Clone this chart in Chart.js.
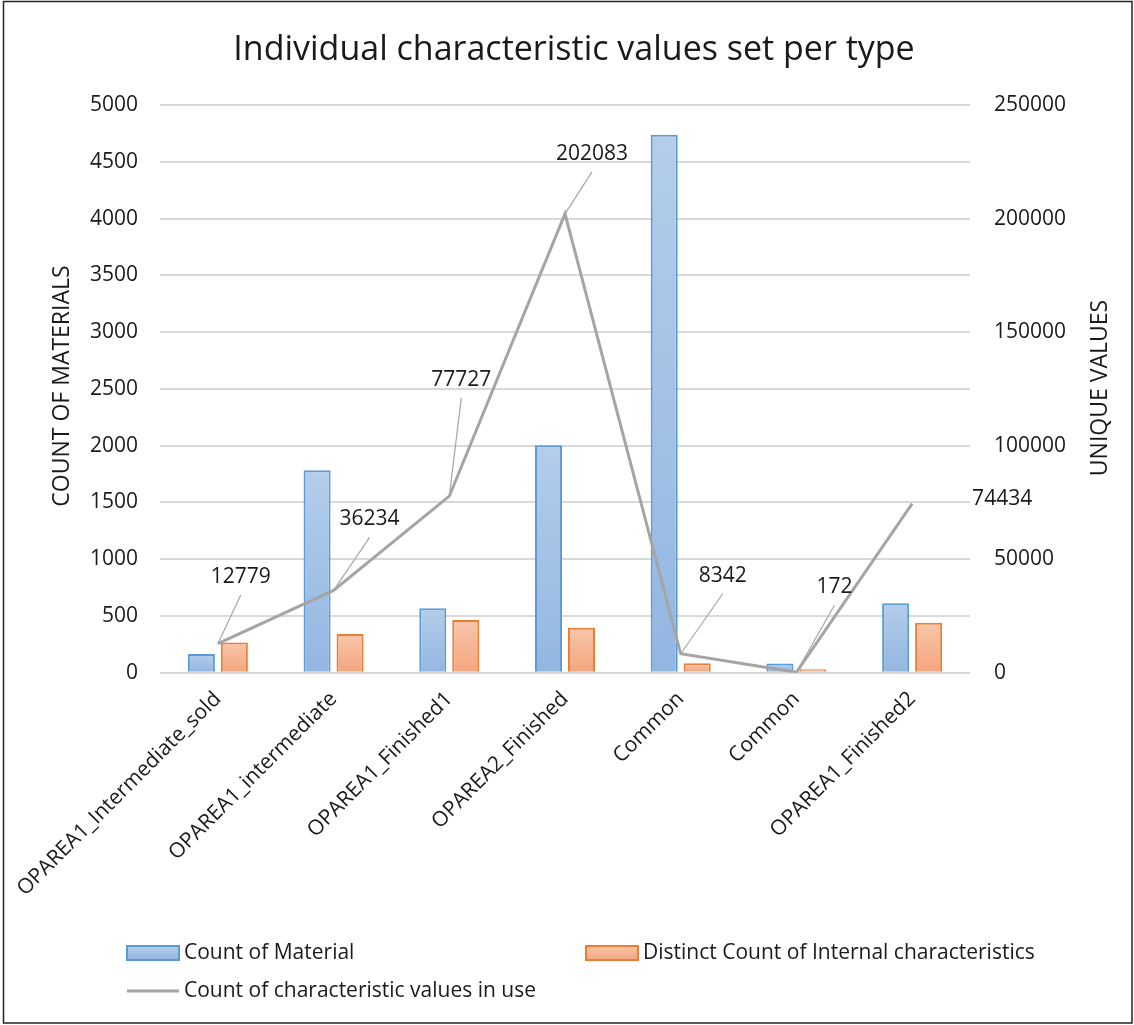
<!DOCTYPE html>
<html>
<head>
<meta charset="utf-8">
<title>Individual characteristic values set per type</title>
<script src="https://cdn.jsdelivr.net/npm/chart.js@4.4.0/dist/chart.umd.min.js"></script>
<style>
  html, body { margin: 0; padding: 0; background: #fff; }
  canvas { display: block; }
</style>
</head>
<body>
<canvas id="grafico" width="1134" height="1025"></canvas>
<script>
// data
const categories = ['OPAREA1_Intermediate_sold', 'OPAREA1_intermediate', 'OPAREA1_Finished1',
  'OPAREA2_Finished', 'Common', 'Common', 'OPAREA1_Finished2'];
const countOfMaterial = [165, 1784, 567, 2004, 4738, 82, 611];
const distinctCharacteristics = [267, 341, 464, 396, 83, 30, 440];
const valuesInUse = [12779, 36234, 77727, 202083, 8342, 172, 74434];
const leftTicks = [0, 500, 1000, 1500, 2000, 2500, 3000, 3500, 4000, 4500, 5000];
const rightTicks = [0, 50000, 100000, 150000, 200000, 250000];

// where each line label sits relative to its point (dx, dy, leader line?)
const labelOffsets = [[23, -67, 1], [36, -71, 1], [12, -116, 1], [27, -60, 1], [42, -78, 1], [38, -85, 1], [90, -5, 0]];

const FONT = '"Open Sans", "Noto Sans", sans-serif';
const TXT = '#1a1a1a';

function barGradient(top, bottom) {
  return function (ctx) {
    const chart = ctx.chart;
    const y = chart.scales.y;
    if (!y || ctx.raw === undefined) return top;
    const yTop = y.getPixelForValue(ctx.raw);
    const yBase = y.getPixelForValue(0);
    if (!isFinite(yTop) || yTop === yBase) return top;
    const g = chart.ctx.createLinearGradient(0, yTop, 0, yBase);
    g.addColorStop(0, top);
    g.addColorStop(1, bottom);
    return g;
  };
}

const extras = {
  id: 'extras',
  afterDraw(chart) {
    const c = chart.ctx;
    c.save();
    // outer border
    c.strokeStyle = '#222';
    c.lineWidth = 1.5;
    c.strokeRect(3.5, 1.5, 1128.5, 1021.5);

    // title
    c.fillStyle = TXT;
    c.font = '34px ' + FONT;
    c.textAlign = 'center';
    c.textBaseline = 'middle';
    c.fillText('Individual characteristic values set per type', 574, 50);

    // axis titles, both read bottom to top
    c.font = '23px ' + FONT;
    c.save();
    c.translate(62, 386);
    c.rotate(-Math.PI / 2);
    c.fillText('COUNT OF MATERIALS', 0, 0);
    c.restore();
    c.save();
    c.translate(1100, 388);
    c.rotate(-Math.PI / 2);
    c.fillText('UNIQUE VALUES', 0, 0);
    c.restore();

    // line labels with leader lines
    const meta = chart.getDatasetMeta(2);
    c.font = '21px ' + FONT;
    meta.data.forEach((pt, i) => {
      const o = labelOffsets[i];
      const lx = pt.x + o[0];
      const ly = pt.y + o[1];
      if (o[2]) {
        c.strokeStyle = '#a6a6a6';
        c.lineWidth = 1.2;
        c.beginPath();
        c.moveTo(pt.x, pt.y);
        c.lineTo(lx, ly + 18);
        c.stroke();
      }
      c.fillStyle = TXT;
      c.textAlign = 'center';
      c.fillText(valuesInUse[i].toString(), lx, ly);
    });

    // legend
    const ds = chart.data.datasets;
    c.font = '21px ' + FONT;
    c.textAlign = 'left';
    const items = [[127, 953, 0], [586, 953, 1], [127, 991, 2]];
    items.forEach(([x, y, k]) => {
      const d = ds[k];
      if (d.type === 'line') {
        c.strokeStyle = d.borderColor;
        c.lineWidth = 3;
        c.beginPath();
        c.moveTo(x, y);
        c.lineTo(x + 52, y);
        c.stroke();
      } else {
        const g = c.createLinearGradient(0, y - 7, 0, y + 7);
        g.addColorStop(0, d.legendTop);
        g.addColorStop(1, d.legendBottom);
        c.fillStyle = g;
        c.fillRect(x, y - 7, 52, 14);
        c.strokeStyle = d.borderColor;
        c.lineWidth = 2;
        c.strokeRect(x, y - 7, 52, 14);
      }
      c.fillStyle = TXT;
      c.fillText(d.label, x + 57, y);
    });
    c.restore();
  }
};

const plain = v => String(v);

const ctx = document.getElementById('grafico');
new Chart(ctx, {
  data: {
    labels: categories,
    datasets: [{
      type: 'bar',
      label: 'Count of Material',
      data: countOfMaterial,
      yAxisID: 'y',
      backgroundColor: barGradient('#b4cdea', '#93b6e1'),
      legendTop: '#b4cdea', legendBottom: '#93b6e1',
      borderColor: '#5b9bd5',
      borderWidth: 2,
      categoryPercentage: 0.57,
      barPercentage: 0.82,
      order: 1
    }, {
      type: 'bar',
      label: 'Distinct Count of Internal characteristics',
      data: distinctCharacteristics,
      yAxisID: 'y',
      backgroundColor: barGradient('#f8c6ab', '#f4a57f'),
      legendTop: '#f8c6ab', legendBottom: '#f4a57f',
      borderColor: '#ed7d31',
      borderWidth: 2,
      categoryPercentage: 0.57,
      barPercentage: 0.82,
      order: 1
    }, {
      type: 'line',
      label: 'Count of characteristic values in use',
      data: valuesInUse,
      yAxisID: 'y1',
      borderColor: '#a5a5a5',
      borderWidth: 3,
      pointRadius: 0,
      tension: 0,
      fill: false,
      order: 0
    }]
  },
  options: {
    responsive: false,
    animation: false,
    layout: { padding: { top: 105, left: 0, right: 0, bottom: 0 } },
    plugins: {
      legend: { display: false },
      title: { display: false },
      tooltip: { enabled: false }
    },
    scales: {
      x: {
        grid: { display: false },
        border: { display: false },
        ticks: {
          color: TXT,
          font: { family: FONT, size: 21 },
          minRotation: 45,
          maxRotation: 45,
          autoSkip: false,
          padding: 6
        },
        afterFit(s) { s.height = 352.3; s.paddingLeft = 0; s.paddingRight = 0; }
      },
      y: {
        position: 'left',
        min: 0,
        max: 5000,
        afterBuildTicks(s) { s.ticks = leftTicks.map(v => ({ value: v })); },
        grid: { color: '#d9d9d9', lineWidth: 2, drawTicks: false },
        border: { display: false },
        ticks: { color: TXT, font: { family: FONT, size: 21 }, padding: 22, callback: plain },
        afterFit(s) { s.width = 160; }
      },
      y1: {
        position: 'right',
        min: 0,
        max: 250000,
        afterBuildTicks(s) { s.ticks = rightTicks.map(v => ({ value: v })); },
        grid: { display: false, drawTicks: false },
        border: { display: false },
        ticks: { color: TXT, font: { family: FONT, size: 21 }, padding: 24, callback: plain },
        afterFit(s) { s.width = 164; }
      }
    }
  },
  plugins: [extras]
});
</script>
</body>
</html>
